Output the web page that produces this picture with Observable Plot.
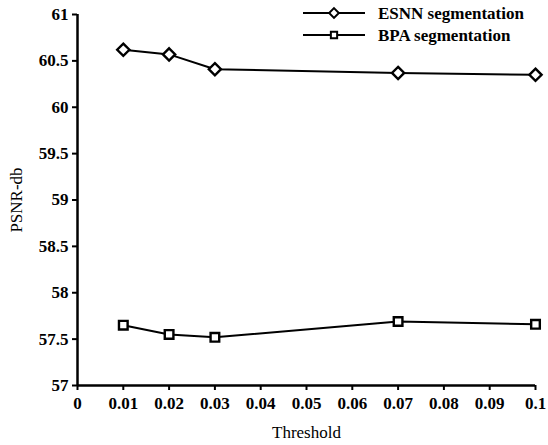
<!DOCTYPE html>
<html>
<head>
<meta charset="utf-8">
<script src="https://cdn.jsdelivr.net/npm/d3@7"></script>
<script src="https://cdn.jsdelivr.net/npm/@observablehq/plot@0.6"></script>
<style>
  html, body { margin: 0; padding: 0; background: #fff; }
  #wrap { position: relative; width: 548px; height: 445px; font-family: "Liberation Serif", "Times New Roman", Times, "DejaVu Serif", serif; }
  #wrap svg, #wrap svg text { font-family: "Liberation Serif", "Times New Roman", Times, "DejaVu Serif", serif !important; }
  #legend { position: absolute; left: 300px; top: 2px; }
  .tickb text { font-weight: bold; }
</style>
</head>
<body>
<div id="wrap"></div>
<script>
const thresholds = [0.01, 0.02, 0.03, 0.07, 0.1];
const esnn = [60.62, 60.57, 60.41, 60.37, 60.35];
const bpa = [57.65, 57.55, 57.52, 57.69, 57.66];
const seriesNames = ["ESNN segmentation", "BPA segmentation"];
const seriesSymbols = ["diamond2", "square2"];
const xTicks = [0, 0.01, 0.02, 0.03, 0.04, 0.05, 0.06, 0.07, 0.08, 0.09, 0.1];
const yTicks = [57, 57.5, 58, 58.5, 59, 59.5, 60, 60.5, 61];

const data = [
  ...thresholds.map((t, i) => ({x: t, y: esnn[i], s: seriesNames[0]})),
  ...thresholds.map((t, i) => ({x: t, y: bpa[i], s: seriesNames[1]}))
];

const fmt = d => String(+d.toFixed(2));

const chart = Plot.plot({
  width: 548,
  height: 445,
  marginLeft: 77,
  marginRight: 13,
  marginTop: 14,
  marginBottom: 60,
  style: {fontSize: "17px", color: "#000", background: "#fff"},
  x: {domain: [0, 0.1]},
  y: {domain: [57, 61]},
  symbol: {domain: seriesNames, range: seriesSymbols},
  marks: [
    Plot.axisX({ticks: xTicks, tickFormat: fmt, tickSize: 5, tickPadding: 6, strokeWidth: 2, fontSize: 17, className: "tickb", label: null}),
    Plot.axisX({ticks: [], label: "Threshold", labelAnchor: "center", labelOffset: 52, labelArrow: "none", fontSize: 17}),
    Plot.axisY({ticks: yTicks, tickFormat: fmt, tickSize: 5, tickPadding: 4, strokeWidth: 2, fontSize: 17, className: "tickb", label: null}),
    Plot.axisY({ticks: [], label: "PSNR-db", labelAnchor: "center", labelOffset: 68, labelArrow: "none", fontSize: 17}),
    Plot.ruleY([57], {stroke: "#000", strokeWidth: 2.5}),
    Plot.ruleX([0], {stroke: "#000", strokeWidth: 2.5}),
    Plot.line(data, {x: "x", y: "y", z: "s", stroke: "#000", strokeWidth: 2}),
    Plot.dot(data, {x: "x", y: "y", symbol: "s", stroke: "#000", fill: "#fff", strokeWidth: 2.4, r: 5.5})
  ]
});

const wrap = document.getElementById("wrap");
wrap.appendChild(chart);

// legend
const lg = d3.select(wrap).append("svg").attr("id", "legend").attr("width", 248).attr("height", 48);
seriesNames.forEach((name, i) => {
  const g = lg.append("g").attr("transform", `translate(0,${11 + i * 22})`);
  g.append("line").attr("x1", 3).attr("x2", 65).attr("y1", 0).attr("y2", 0).attr("stroke", "#000").attr("stroke-width", 2);
  const sym = d3.symbol(i === 0 ? d3.symbolDiamond2 : d3.symbolSquare2, i === 0 ? 60 : 50);
  g.append("path").attr("d", sym()).attr("transform", "translate(34,0)").attr("fill", "#fff").attr("stroke", "#000").attr("stroke-width", 2);
  g.append("text").attr("x", 78).attr("y", 0).attr("dy", "0.35em").attr("font-size", 17).attr("font-weight", "bold").text(name);
});
</script>
</body>
</html>
